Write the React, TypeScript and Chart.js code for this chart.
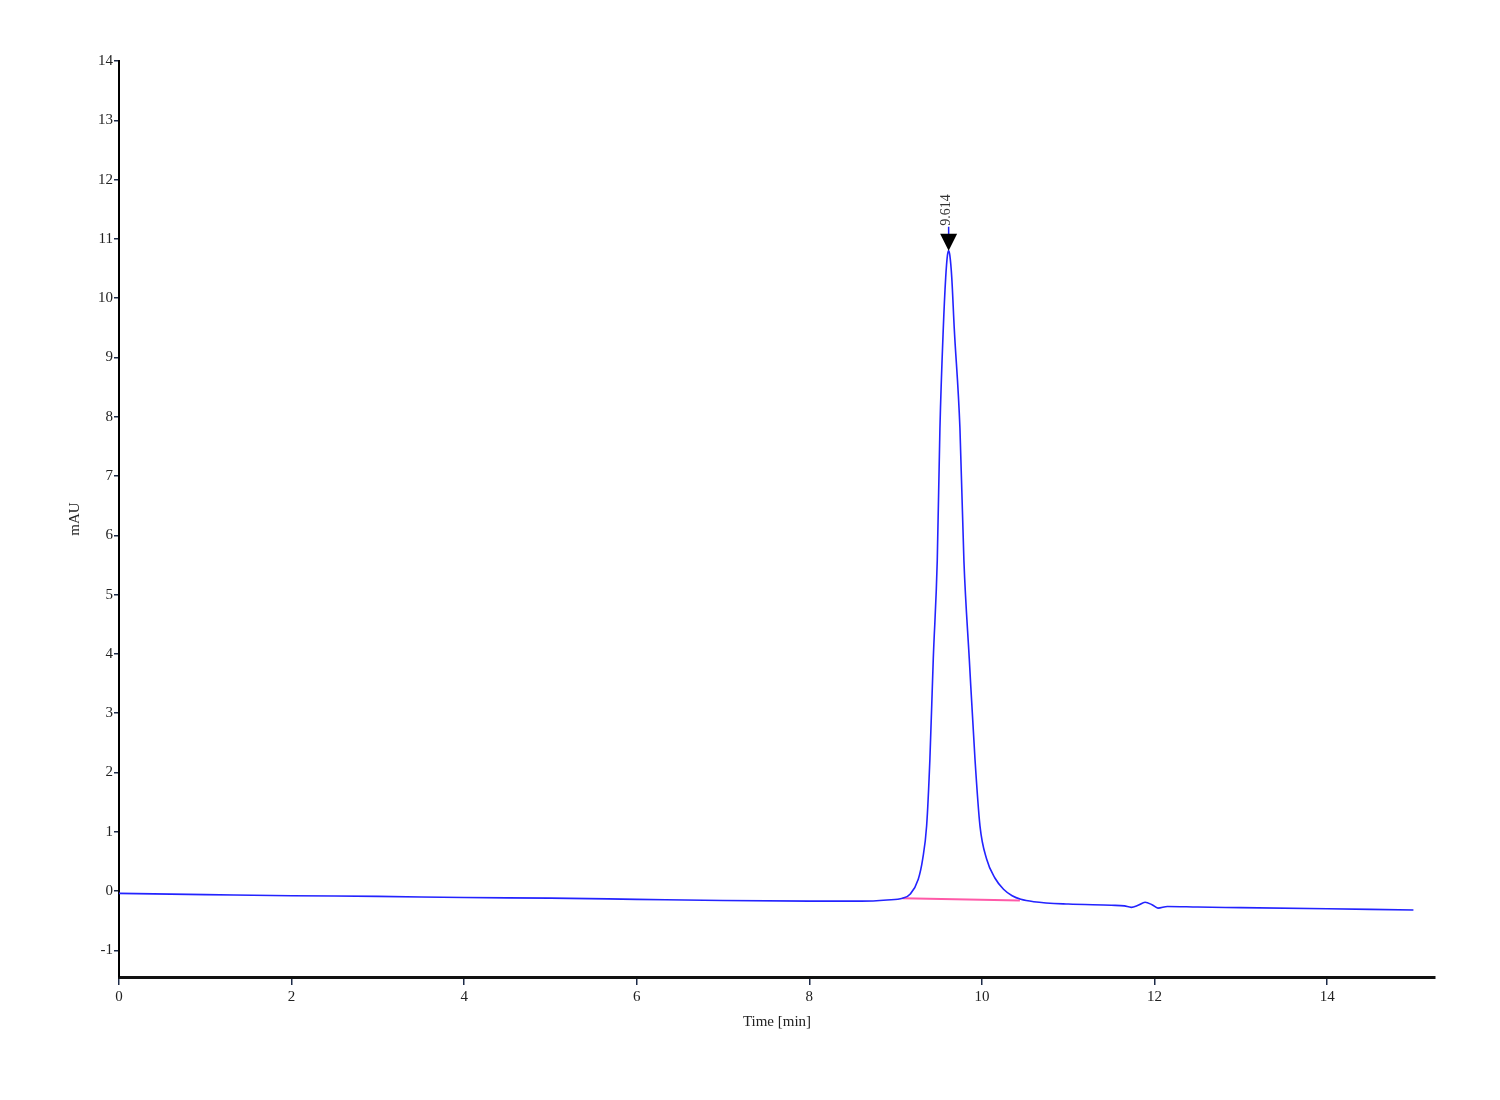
import React, { useEffect, useRef } from "react";
import { Chart, registerables } from "chart.js";

Chart.register(...registerables);

// Chromatogram trace: [time (min), signal (mAU)]
const traceTime = [
  0, 1, 2, 3, 4, 5, 6, 7, 8, 8.6, 8.9, 9.08, 9.17, 9.262, 9.313, 9.359, 9.397,
  9.436, 9.482, 9.513, 9.552, 9.58, 9.6, 9.614, 9.628, 9.65, 9.679, 9.745, 9.791,
  9.853, 9.919, 9.977, 10.054, 10.15, 10.25, 10.35, 10.45, 10.6, 11, 11.5, 11.65,
  11.73, 11.81, 11.89, 11.97, 12.04, 12.15, 12.5, 13, 14, 15,
];
const traceSignal = [
  -0.04, -0.06, -0.08, -0.09, -0.11, -0.12, -0.14, -0.16, -0.17, -0.17, -0.15,
  -0.12, -0.05, 0.2, 0.54, 1.1, 2.23, 3.92, 5.57, 7.8, 9.49, 10.35, 10.72, 10.8,
  10.72, 10.35, 9.49, 7.8, 5.57, 3.92, 2.23, 1.1, 0.54, 0.22, 0.03, -0.08, -0.14,
  -0.18, -0.22, -0.24, -0.25, -0.275, -0.24, -0.19, -0.23, -0.288, -0.26, -0.27,
  -0.28, -0.3, -0.32,
];

// Integration baseline under the peak
const baselineTime = [9.08, 10.44];
const baselineSignal = [-0.12, -0.16];

const peakLabel = "9.614";
const xTicks = [0, 2, 4, 6, 8, 10, 12, 14];
const yTicks = [-1, 0, 1, 2, 3, 4, 5, 6, 7, 8, 9, 10, 11, 12, 13, 14];

const serif = "'Liberation Serif', 'DejaVu Serif', serif";

const peakPlugin = {
  id: "peakMarker",
  afterDatasetsDraw(chart: any) {
    const { ctx, scales } = chart;
    let idx = 0;
    for (let i = 1; i < traceSignal.length; i++) {
      if (traceSignal[i] > traceSignal[idx]) idx = i;
    }
    const px = scales.x.getPixelForValue(traceTime[idx]);
    const py = scales.y.getPixelForValue(traceSignal[idx]);
    ctx.save();
    // blue stem
    ctx.strokeStyle = "#1a1aff";
    ctx.lineWidth = 1.5;
    ctx.beginPath();
    ctx.moveTo(px, py - 16);
    ctx.lineTo(px, py - 24);
    ctx.stroke();
    // black downward triangle
    ctx.fillStyle = "#000";
    ctx.beginPath();
    ctx.moveTo(px, py);
    ctx.lineTo(px - 8.5, py - 17);
    ctx.lineTo(px + 8.5, py - 17);
    ctx.closePath();
    ctx.fill();
    // rotated label
    ctx.translate(px - 2, py - 25);
    ctx.rotate(-Math.PI / 2);
    ctx.font = `14px ${serif}`;
    ctx.fillStyle = "#333";
    ctx.textAlign = "left";
    ctx.textBaseline = "middle";
    ctx.fillText(peakLabel, 0, 0);
    ctx.restore();
  },
};

export default function App() {
  const canvasRef = useRef<HTMLCanvasElement | null>(null);

  useEffect(() => {
    document.body.style.margin = "0";
    const canvas = canvasRef.current;
    if (!canvas) return;
    const chart = new Chart(canvas, {
      type: "line",
      data: {
        datasets: [
          {
            label: "signal",
            data: traceTime.map((t, i) => ({ x: t, y: traceSignal[i] })),
            borderColor: "#2323ff",
            borderWidth: 1.6,
            pointRadius: 0,
            cubicInterpolationMode: "monotone",
            fill: false,
            order: 0,
          },
          {
            label: "baseline",
            data: baselineTime.map((t, i) => ({ x: t, y: baselineSignal[i] })),
            borderColor: "#ff5aa8",
            borderWidth: 2,
            pointRadius: 0,
            fill: false,
            order: 1,
          },
        ],
      },
      options: {
        animation: false,
        responsive: false,
        devicePixelRatio: 1,
        layout: { padding: { left: 62, right: 65, top: 61, bottom: 65 } },
        plugins: {
          legend: { display: false },
          tooltip: { enabled: false },
        },
        scales: {
          x: {
            type: "linear",
            min: 0,
            max: 15.25,
            afterFit: (s: any) => {
              s.height = 58;
            },
            afterBuildTicks: (s: any) => {
              s.ticks = xTicks.map((v) => ({ value: v }));
            },
            grid: {
              display: true,
              drawOnChartArea: false,
              drawTicks: true,
              tickLength: 8,
              color: "#1c2a48",
              lineWidth: 1.5,
            },
            border: { display: true, color: "#111", width: 3 },
            ticks: {
              font: { family: serif, size: 15 },
              color: "#222",
              padding: 3,
              maxRotation: 0,
              callback: (v: any) => String(v),
            },
            title: {
              display: true,
              text: "Time [min]",
              font: { family: serif, size: 15 },
              color: "#222",
              padding: { top: 0, bottom: 4 },
            },
          },
          y: {
            type: "linear",
            min: -1.45,
            max: 14,
            afterFit: (s: any) => {
              s.width = 57;
            },
            afterBuildTicks: (s: any) => {
              s.ticks = yTicks.map((v) => ({ value: v }));
            },
            grid: {
              display: true,
              drawOnChartArea: false,
              drawTicks: true,
              tickLength: 5,
              color: "#1c2a48",
              lineWidth: 1.5,
            },
            border: { display: true, color: "#000", width: 2 },
            ticks: {
              font: { family: serif, size: 15 },
              color: "#222",
              padding: 1,
              callback: (v: any) => String(v),
            },
            title: {
              display: true,
              text: "mAU",
              font: { family: serif, size: 15 },
              color: "#222",
              padding: { top: 4, bottom: 0 },
            },
          },
        },
      },
      plugins: [peakPlugin],
    });
    return () => chart.destroy();
  }, []);

  return (
    <div style={{ position: "absolute", left: 0, top: 0, width: 1500, height: 1100, background: "#fff" }}>
      <canvas ref={canvasRef} width={1500} height={1100} style={{ width: 1500, height: 1100 }} />
    </div>
  );
}
